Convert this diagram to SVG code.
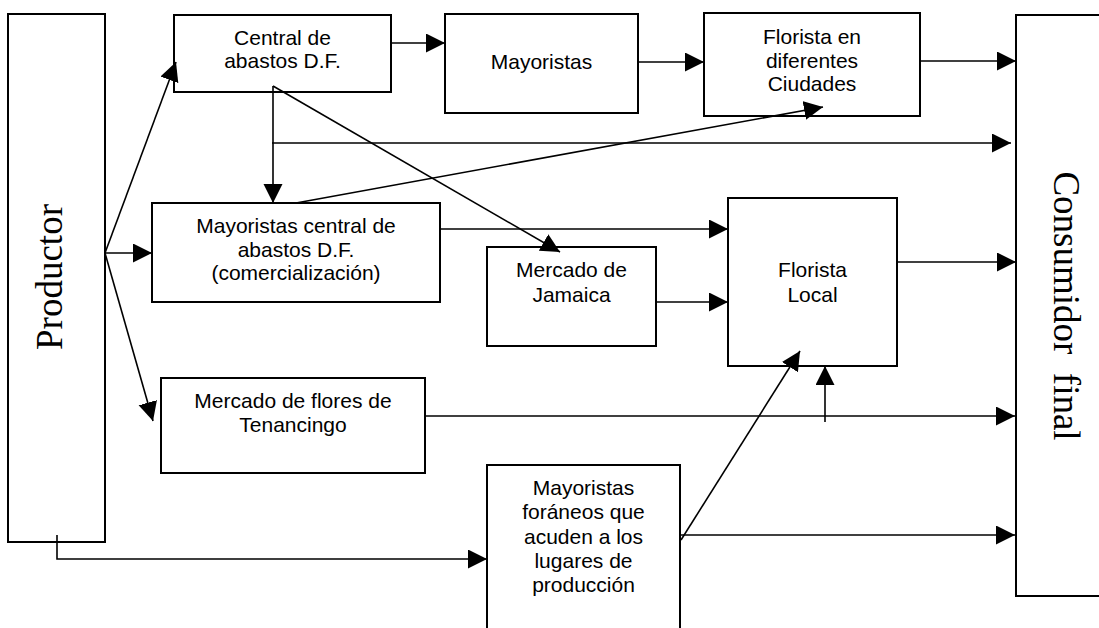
<svg xmlns="http://www.w3.org/2000/svg" width="1099" height="628" viewBox="0 0 1099 628">
<style>
.box{fill:#fff;stroke:#000;stroke-width:2}
.t{font-family:"Liberation Sans",Arial,sans-serif;font-size:21px;text-anchor:middle;fill:#000}
.s{font-family:"Liberation Serif","Times New Roman",serif;font-size:37px;text-anchor:middle;fill:#000;white-space:pre}
.c{fill:none;stroke:#000;stroke-width:1.6}
.a{marker-end:url(#ah)}
</style>
<defs>
<marker id="ah" markerUnits="userSpaceOnUse" markerWidth="20" markerHeight="20" refX="19" refY="9.5" orient="auto">
<path d="M0,0 L19,9.5 L0,19 z" fill="#000"/>
</marker>
</defs>
<rect width="1099" height="628" fill="#fff"/>
<g id="productor">
<rect class="box" x="8" y="14" width="97" height="528"/>
<text class="s" transform="translate(62,277) rotate(-90)">Productor</text>
</g>
<g id="consumidor">
<rect class="box" x="1016" y="15" width="100" height="581"/>
<text class="s" transform="translate(1054,306) rotate(90)" xml:space="preserve">Consumidor  final</text>
</g>
<g id="central">
<rect class="box" x="174" y="15" width="217" height="77"/>
<text class="t" x="282.5" y="45">Central de</text>
<text class="t" x="282.5" y="68">abastos D.F.</text>
</g>
<g id="mayoristas">
<rect class="box" x="445" y="14" width="193" height="99"/>
<text class="t" x="541.5" y="69">Mayoristas</text>
</g>
<g id="florista-ciudades">
<rect class="box" x="704" y="13" width="216" height="103"/>
<text class="t" x="812" y="44">Florista en</text>
<text class="t" x="812" y="68">diferentes</text>
<text class="t" x="812" y="91">Ciudades</text>
</g>
<g id="mayoristas-central">
<rect class="box" x="152" y="203" width="288" height="99"/>
<text class="t" x="296" y="233">Mayoristas central de</text>
<text class="t" x="296" y="257">abastos D.F.</text>
<text class="t" x="296" y="280">(comercialización)</text>
</g>
<g id="jamaica">
<rect class="box" x="487" y="247" width="169" height="99"/>
<text class="t" x="571.5" y="277">Mercado de</text>
<text class="t" x="571.5" y="302">Jamaica</text>
</g>
<g id="florista-local">
<rect class="box" x="728" y="198" width="169" height="168"/>
<text class="t" x="812.5" y="277">Florista</text>
<text class="t" x="812.5" y="302">Local</text>
</g>
<g id="tenancingo">
<rect class="box" x="161" y="378" width="264" height="95"/>
<text class="t" x="293" y="408">Mercado de flores de</text>
<text class="t" x="293" y="432">Tenancingo</text>
</g>
<g id="foraneos">
<rect class="box" x="487" y="465" width="193" height="180"/>
<text class="t" x="583.5" y="495">Mayoristas</text>
<text class="t" x="583.5" y="519">foráneos que</text>
<text class="t" x="583.5" y="544">acuden a los</text>
<text class="t" x="583.5" y="568">lugares de</text>
<text class="t" x="583.5" y="592">producción</text>
</g>
<g id="connectors">
<line class="c a" x1="105" y1="253" x2="176" y2="62"/>
<line class="c a" x1="105" y1="253" x2="152" y2="253"/>
<line class="c a" x1="105" y1="253" x2="153" y2="421"/>
<polyline class="c a" points="57,535 57,559 487,559"/>
<line class="c a" x1="391" y1="43" x2="445" y2="43"/>
<line class="c a" x1="638" y1="62" x2="704" y2="62"/>
<line class="c a" x1="920" y1="61" x2="1016" y2="61"/>
<line class="c a" x1="273" y1="86" x2="273" y2="203"/>
<line class="c a" x1="272" y1="143" x2="1011" y2="143"/>
<line class="c a" x1="273" y1="86" x2="560" y2="252"/>
<line class="c a" x1="296" y1="203" x2="823" y2="107"/>
<line class="c a" x1="440" y1="229" x2="728" y2="229"/>
<line class="c a" x1="656" y1="302" x2="728" y2="302"/>
<line class="c a" x1="897" y1="262" x2="1016" y2="262"/>
<line class="c a" x1="425" y1="416" x2="1015" y2="416"/>
<line class="c a" x1="825" y1="422" x2="825" y2="366"/>
<line class="c a" x1="681" y1="540" x2="800" y2="351"/>
<line class="c a" x1="680" y1="535" x2="1015" y2="535"/>
</g>
</svg>
